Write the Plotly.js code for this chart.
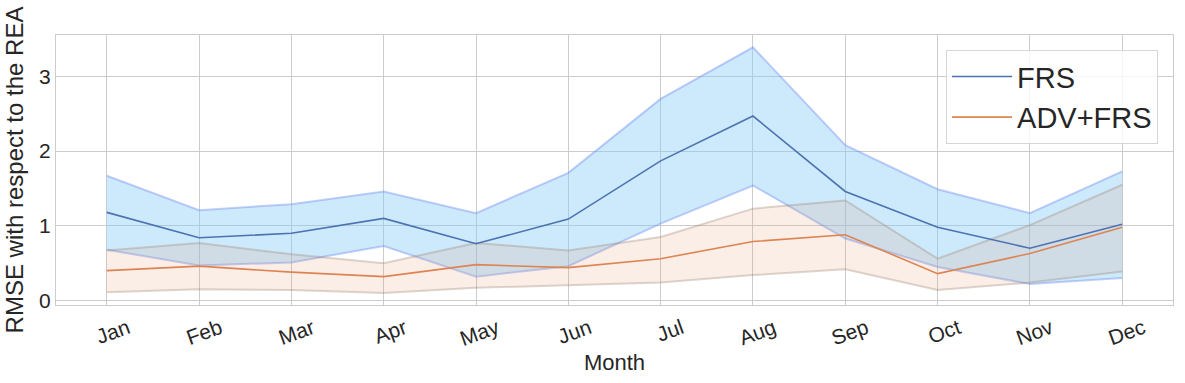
<!DOCTYPE html>
<html>
<head>
<meta charset="utf-8">
<script src="https://cdn.plot.ly/plotly-3.0.1.min.js"></script>
<style>
  html, body { margin: 0; padding: 0; background: #fff; }
  #chart { width: 1185px; height: 383px; }
</style>
</head>
<body>
<div id="chart"></div>
<script>
const months = ['Jan', 'Feb', 'Mar', 'Apr', 'May', 'Jun', 'Jul', 'Aug', 'Sep', 'Oct', 'Nov', 'Dec'];

const frsMean  = [1.18, 0.84, 0.90, 1.10, 0.76, 1.09, 1.87, 2.47, 1.46, 0.98, 0.70, 1.02];
const frsUpper = [1.67, 1.21, 1.29, 1.46, 1.17, 1.71, 2.70, 3.39, 2.08, 1.49, 1.17, 1.73];
const frsLower = [0.68, 0.47, 0.51, 0.73, 0.32, 0.46, 1.03, 1.54, 0.83, 0.45, 0.22, 0.30];

const advMean  = [0.40, 0.46, 0.38, 0.32, 0.48, 0.44, 0.56, 0.79, 0.88, 0.36, 0.63, 0.98];
const advUpper = [0.67, 0.77, 0.62, 0.50, 0.77, 0.67, 0.85, 1.23, 1.34, 0.56, 1.01, 1.55];
const advLower = [0.11, 0.15, 0.14, 0.10, 0.17, 0.20, 0.24, 0.34, 0.42, 0.14, 0.24, 0.39];

const x = months.map((m, i) => i);

function band(lower, upper, fill, edge) {
    return [
        { x, y: lower, type: 'scatter', mode: 'lines', line: { color: edge, width: 2 },
          hoverinfo: 'skip', showlegend: false },
        { x, y: upper, type: 'scatter', mode: 'lines', line: { color: edge, width: 2 },
          fill: 'tonexty', fillcolor: fill, hoverinfo: 'skip', showlegend: false }
    ];
}

const traces = [
    ...band(frsLower, frsUpper, 'rgba(135,206,250,0.42)', 'rgba(100,130,240,0.38)'),
    ...band(advLower, advUpper, 'rgba(225,150,105,0.16)', 'rgba(150,120,100,0.3)'),
    { x, y: frsMean, type: 'scatter', mode: 'lines', name: 'FRS',
      line: { color: '#4c72b0', width: 1.6 } },
    { x, y: advMean, type: 'scatter', mode: 'lines', name: 'ADV+FRS',
      line: { color: '#dd8452', width: 1.6 } }
];

const font = 'Liberation Sans, Arial, sans-serif';

const layout = {
    width: 1185,
    height: 383,
    margin: { l: 56, r: 12, t: 35, b: 78 },
    paper_bgcolor: '#fff',
    plot_bgcolor: '#fff',
    font: { family: font, color: '#262626' },
    showlegend: true,
    legend: {
        x: 0.9866, xanchor: 'right', y: 0.944, yanchor: 'top',
        traceorder: 'normal',
        bgcolor: 'rgba(255,255,255,0.8)', bordercolor: '#d6d6d6', borderwidth: 1,
        font: { size: 29, family: font, color: '#262626' },
        itemwidth: 60
    },
    xaxis: {
        range: [-0.55, 11.55],
        tickvals: x,
        ticktext: months,
        tickangle: -20,
        ticklabelshift: 21,
        ticklabelstandoff: 2,
        tickfont: { size: 21 },
        showgrid: true, gridcolor: '#cccccc', gridwidth: 1,
        zeroline: false,
        showline: true, linecolor: '#cccccc', mirror: true, linewidth: 1.2,
        ticks: '',
        title: { text: 'Month', font: { size: 22 }, standoff: 5 }
    },
    yaxis: {
        range: [-0.06, 3.555],
        tickvals: [0, 1, 2, 3],
        tickfont: { size: 21 },
        showgrid: true, gridcolor: '#cccccc', gridwidth: 1,
        zeroline: false,
        showline: true, linecolor: '#cccccc', mirror: true, linewidth: 1.2,
        ticks: '',
        title: { text: 'RMSE with respect to the REA', font: { size: 24 }, standoff: 8 }
    }
};

Plotly.newPlot('chart', traces, layout, { displayModeBar: false, staticPlot: true });
</script>
</body>
</html>
